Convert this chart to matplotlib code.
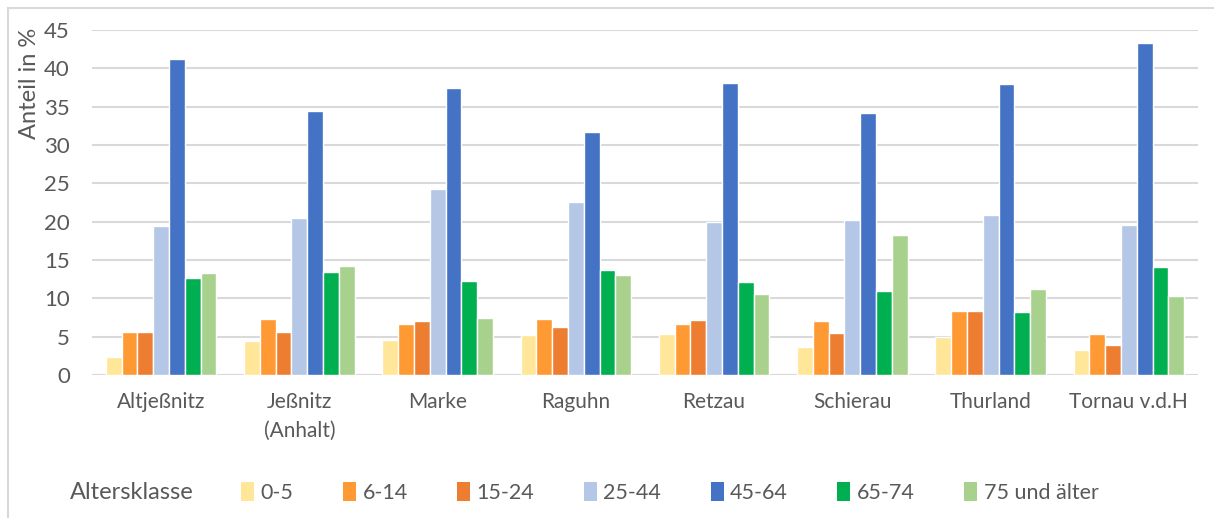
import matplotlib.pyplot as plt
import numpy as np
from matplotlib.lines import Line2D
from matplotlib.patches import Patch

orte = ["Altjeßnitz", "Jeßnitz\n(Anhalt)", "Marke", "Raguhn", "Retzau",
        "Schierau", "Thurland", "Tornau v.d.H"]
klassen = ["0-5", "6-14", "15-24", "25-44", "45-64", "65-74", "75 und älter"]
farben = ["#FFE699", "#FF9933", "#ED7D31", "#B4C7E7", "#4472C4", "#00B050", "#A9D18E"]

a_0_5 = [2.3, 4.5, 4.6, 5.2, 5.3, 3.7, 4.9, 3.2]
a_6_14 = [5.6, 7.3, 6.7, 7.3, 6.7, 7.0, 8.3, 5.4]
a_15_24 = [5.6, 5.6, 7.1, 6.3, 7.2, 5.5, 8.3, 3.9]
a_25_44 = [19.4, 20.5, 24.3, 22.6, 19.9, 20.2, 20.9, 19.6]
a_45_64 = [41.2, 34.4, 37.4, 31.7, 38.1, 34.2, 37.9, 43.3]
a_65_74 = [12.6, 13.4, 12.3, 13.7, 12.1, 11.0, 8.2, 14.1]
a_75 = [13.3, 14.2, 7.5, 13.0, 10.6, 18.3, 11.2, 10.3]
werte = [a_0_5, a_6_14, a_15_24, a_25_44, a_45_64, a_65_74, a_75]

plt.rcParams["font.family"] = ["Lato", "DejaVu Sans"]
grau = "#595959"

fig = plt.figure(figsize=(12.14, 5.18), dpi=100)
ax = fig.add_axes([0.0758, 0.276, 0.911, 0.666])

x = np.arange(len(orte))
breite = 0.8 / len(klassen)
for i, (werte_i, f) in enumerate(zip(werte, farben)):
    ax.bar(x - 0.4 + breite * (i + 0.5), werte_i, breite, color=f,
           edgecolor="white", linewidth=1.0, zorder=3)

ax.set_xlim(-0.5, len(orte) - 0.5)
ax.set_ylim(0, 45)
ax.set_yticks(range(0, 46, 5))
ax.grid(axis="y", color="#D9D9D9", linewidth=1.5, zorder=0)
for s in ax.spines.values():
    s.set_visible(False)
ax.axhline(0, color="#D9D9D9", linewidth=1.5, zorder=2)
ax.tick_params(length=0, colors=grau)
ax.tick_params(axis="y", labelsize=16, pad=16)
ax.tick_params(axis="x", labelsize=15, pad=12)
ax.set_xticks(x)
ax.set_xticklabels(orte, color=grau, linespacing=1.55)

fig.text(29 / 1214, 1 - 28 / 518, "Anteil in %", rotation=90, va="top", ha="center",
         fontsize=17, color=grau)

# Rahmen
fig.add_artist(Line2D([8 / 1214, 8 / 1214], [0, 1 - 8 / 518], color="#D9D9D9", lw=1.5))
fig.add_artist(Line2D([8 / 1214, 1], [1 - 8 / 518, 1 - 8 / 518], color="#D9D9D9", lw=1.5))

handles = [Patch(facecolor=f, edgecolor="none") for f in farben]
fig.legend(handles, klassen, loc="center left", bbox_to_anchor=(222 / 1214, 0.05),
           ncol=7, frameon=False, fontsize=15.5, handlelength=0.6, handleheight=1.0,
           handletextpad=0.3, columnspacing=2.3, labelcolor=grau)
fig.text(70 / 1214, 0.05, "Altersklasse", va="center", ha="left", fontsize=17, color=grau)

fig.savefig("out.png", dpi=100)
